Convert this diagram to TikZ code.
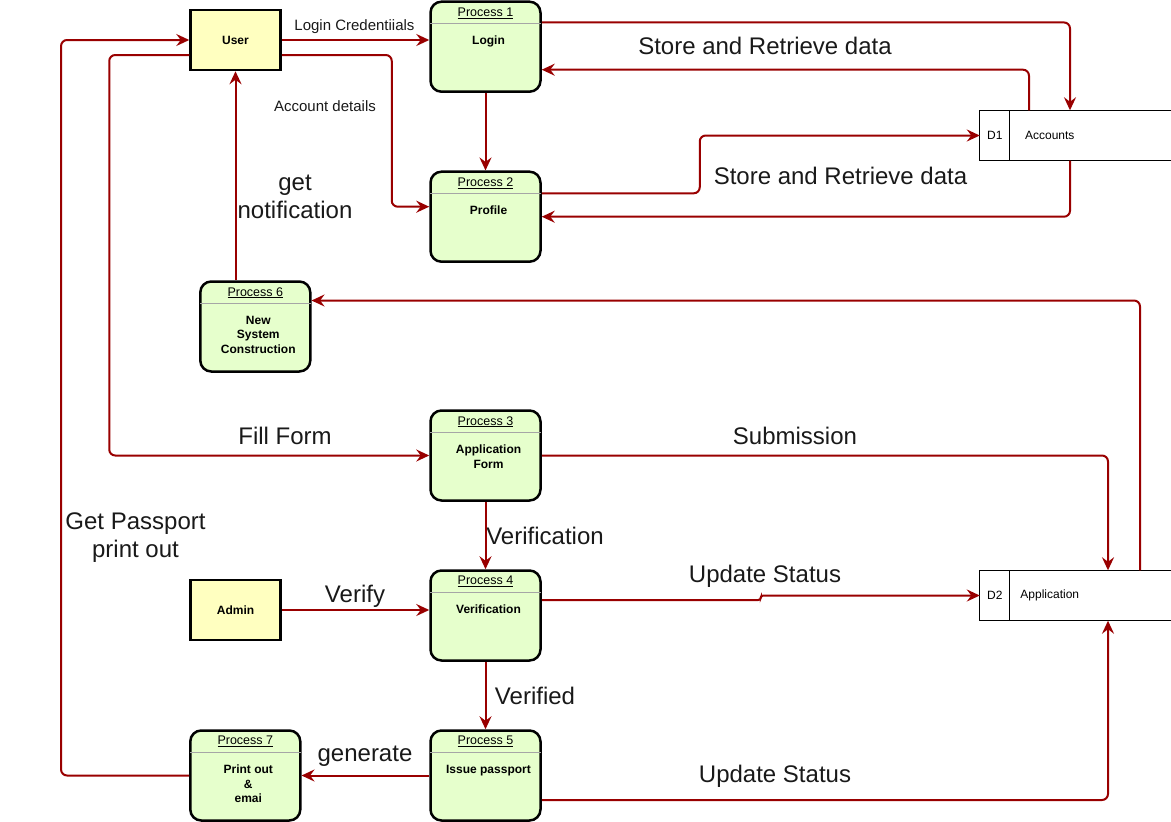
\documentclass[tikz,border=0pt]{standalone}
\usepackage{fontspec}
\setmainfont{Liberation Sans}
\usetikzlibrary{arrows.meta}
\definecolor{flowred}{HTML}{990000}
\definecolor{procfill}{HTML}{E6FFCC}
\definecolor{entfill}{HTML}{FFFFC0}

\begin{document}
\begin{tikzpicture}[x=1pt,y=-1pt,
    proc/.style={draw=black,line width=2.5pt,rounded corners=11pt,fill=procfill,minimum width=110pt,minimum height=90pt,inner sep=0pt},
    ent/.style={draw=black,line width=2.5pt,fill=entfill,minimum width=90pt,minimum height=60pt,inner sep=0pt,font=\fontsize{12}{14}\selectfont\bfseries},
    ptitle/.style={inner sep=0pt,font=\fontsize{12.5}{14}\selectfont},
    pbody/.style={inner sep=0pt,anchor=north,align=center,font=\fontsize{12}{14.5}\selectfont\bfseries},
    divider/.style={draw=gray!70,line width=1pt},
    store/.style={minimum width=191pt,minimum height=50pt,inner sep=0pt},
    storeline/.style={draw=black,line width=1pt},
    storetext/.style={inner sep=0pt,font=\fontsize{12}{14}\selectfont},
    flow/.style={draw=flowred,line width=2pt,-{Stealth[length=13pt,width=12pt,inset=4.5pt]}},
    bentflow/.style={flow,rounded corners=6pt},
    small/.style={inner sep=0pt,text=black!90,font=\fontsize{15}{18}\selectfont},
    big/.style={inner sep=0pt,text=black!90,align=center,font=\fontsize{24}{28}\selectfont}]
      \useasboundingbox (0,0) rectangle (1171,822);

      \node[ent] (u) at (235.5,40) {User};
      \node[ent] (a) at (235.5,610) {Admin};

      \node[proc] (p1) at (485.5,46.7) {};
      \node[proc] (p2) at (485.5,216.7) {};
      \node[proc] (p6) at (255.3,326.5) {};
      \node[proc] (p3) at (485.5,455.5) {};
      \node[proc] (p4) at (485.5,615.5) {};
      \node[proc] (p5) at (485.5,775.5) {};
      \node[proc] (p7) at (245.3,775.5) {};

      \node[ptitle] (p1t) at ([yshift=-12.5pt]p1.north) {\underline{Process 1}};
      \node[ptitle] (p2t) at ([yshift=-12.5pt]p2.north) {\underline{Process 2}};
      \node[ptitle] (p6t) at ([yshift=-12.5pt]p6.north) {\underline{Process 6}};
      \node[ptitle] (p3t) at ([yshift=-12.5pt]p3.north) {\underline{Process 3}};
      \node[ptitle] (p4t) at ([yshift=-12.5pt]p4.north) {\underline{Process 4}};
      \node[ptitle] (p5t) at ([yshift=-12.5pt]p5.north) {\underline{Process 5}};
      \node[ptitle] (p7t) at ([yshift=-12.5pt]p7.north) {\underline{Process 7}};

      \node[pbody] (p1b) at ([xshift=3pt,yshift=-35.5pt]p1.north) {Login};
      \node[pbody] (p2b) at ([xshift=3pt,yshift=-35.5pt]p2.north) {Profile};
      \node[pbody] (p6b) at ([xshift=3pt,yshift=-35.5pt]p6.north) {New\\System\\Construction};
      \node[pbody] (p3b) at ([xshift=3pt,yshift=-35.5pt]p3.north) {Application\\Form};
      \node[pbody] (p4b) at ([xshift=3pt,yshift=-35.5pt]p4.north) {Verification};
      \node[pbody] (p5b) at ([xshift=3pt,yshift=-35.5pt]p5.north) {Issue passport};
      \node[pbody] (p7b) at ([xshift=3pt,yshift=-35.5pt]p7.north) {Print out\\\&\\emai};

      \draw[divider] ([yshift=-23.5pt,xshift=1pt]p1.north west) -- ([yshift=-23.5pt,xshift=-1pt]p1.north east);
      \draw[divider] ([yshift=-23.5pt,xshift=1pt]p2.north west) -- ([yshift=-23.5pt,xshift=-1pt]p2.north east);
      \draw[divider] ([yshift=-23.5pt,xshift=1pt]p6.north west) -- ([yshift=-23.5pt,xshift=-1pt]p6.north east);
      \draw[divider] ([yshift=-23.5pt,xshift=1pt]p3.north west) -- ([yshift=-23.5pt,xshift=-1pt]p3.north east);
      \draw[divider] ([yshift=-23.5pt,xshift=1pt]p4.north west) -- ([yshift=-23.5pt,xshift=-1pt]p4.north east);
      \draw[divider] ([yshift=-23.5pt,xshift=1pt]p5.north west) -- ([yshift=-23.5pt,xshift=-1pt]p5.north east);
      \draw[divider] ([yshift=-23.5pt,xshift=1pt]p7.north west) -- ([yshift=-23.5pt,xshift=-1pt]p7.north east);

      \node[store] (d1) at (1075.5,135.5) {};
      \node[store] (d2) at (1075.5,595.5) {};
      \draw[storeline] (d1.north east) -- (d1.north west) -- (d1.south west) -- (d1.south east);
      \draw[storeline] ([xshift=30pt]d1.north west) -- ([xshift=30pt]d1.south west);
      \draw[storeline] (d2.north east) -- (d2.north west) -- (d2.south west) -- (d2.south east);
      \draw[storeline] ([xshift=30pt]d2.north west) -- ([xshift=30pt]d2.south west);
      \node[storetext] (d1n) at ([xshift=15pt]d1.west) {D1};
      \node[storetext] (d1t) at ([xshift=70pt]d1.west) {Accounts};
      \node[storetext] (d2n) at ([xshift=15pt]d2.west) {D2};
      \node[storetext] (d2t) at ([xshift=70pt]d2.west) {Application};

      \node[small] (l1) at (354.5,27) {Login Credentiials};
      \node[small] (l2) at (325,106) {Account details};
      \node[big] (l3) at (765,46) {Store and Retrieve data};
      \node[big] (l4) at (840.5,176) {Store and Retrieve data};
      \node[big] (l5) at (295,197) {get\\notification};
      \node[big] (l6) at (285,436) {Fill Form};
      \node[big] (l7) at (795,436) {Submission};
      \node[big] (l8) at (135.5,538) {Get Passport\\print out};
      \node[big] (l9) at (545,536) {Verification};
      \node[big] (l10) at (355,596) {Verify};
      \node[big] (l11) at (765,576) {Update Status};
      \node[big] (l12) at (535,696) {Verified};
      \node[big] (l13) at (365,756) {generate};
      \node[big] (l14) at (775,776) {Update Status};

      \draw[flow] (u.east) -- (u.east -| p1.west);
      \draw[bentflow] ([yshift=-15pt]u.east) -- ++(110,0) |- ([yshift=10pt]p2.west);
      \draw[flow] (p1.south) -- (p1.south |- p2.north);
      \draw[bentflow] ([yshift=-22pt]p1.north east) -| ([xshift=-5.5pt]d1.north);
      \draw[bentflow] ([xshift=-46.5pt]d1.north) |- ([yshift=-23pt]p1.east);
      \draw[bentflow] ([yshift=23.4pt]p2.east) -- ++(158,0) |- (d1.west);
      \draw[bentflow] ([xshift=-5.5pt]d1.south) |- (p2.east);
      \draw[flow] (u.south |- p6.north) -- (u.south);
      \draw[bentflow] ([xshift=64.5pt]d2.north) |- ([yshift=26pt]p6.east);
      \draw[bentflow] ([yshift=-15pt]u.west) -- ++(-80,0) |- (p3.west);
      \draw[bentflow] (p7.west) -- ++(-128,0) |- (u.west);
      \draw[bentflow] (p3.east) -| ([xshift=32.5pt]d2.north);
      \draw[flow] (p3.south) -- (p3.south |- p4.north);
      \draw[flow] (a.east) -- (a.east -| p4.west);
      \draw[bentflow,rounded corners=2.5pt] ([yshift=15.5pt]p4.east) -- ++(219,0) |- (d2.west);
      \draw[flow] (p4.south) -- (p4.south |- p5.north);
      \draw[flow] (p5.west) -- (p5.west -| p7.east);
      \draw[bentflow] ([yshift=-24.5pt]p5.east) -| ([xshift=32.5pt]d2.south);
    \end{tikzpicture}
\end{document}
